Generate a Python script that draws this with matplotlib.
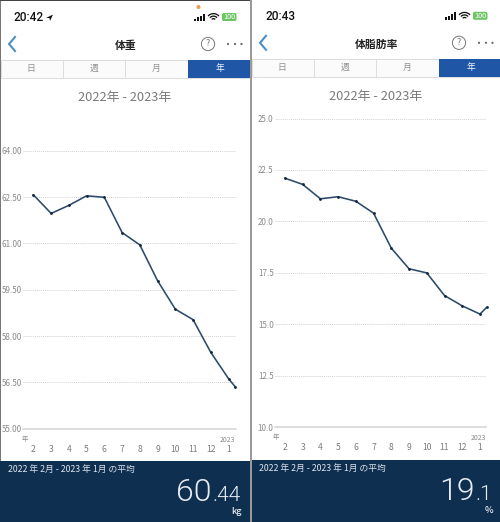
import matplotlib
matplotlib.use("Agg")
import matplotlib.pyplot as plt
from matplotlib.patches import Rectangle, Circle, Wedge, FancyBboxPatch, Polygon

plt.rcParams['font.family'] = ['Noto Sans CJK JP', 'DejaVu Sans']

W, H = 500, 522

# monthly averages, the last point is the running month
month_pos = [0, 1, 2, 3, 4, 5, 6, 7, 8, 9, 10, 11, 11.37]
month_labels = ["2", "3", "4", "5", "6", "7", "8", "9", "10", "11", "12", "1"]

weight = [62.57, 61.97, 62.23, 62.54, 62.49, 61.35, 60.95, 59.79,
          58.87, 58.53, 57.47, 56.62, 56.36]
weight_ticks = [55.0, 56.5, 58.0, 59.5, 61.0, 62.5, 64.0]

body_fat = [22.10, 21.80, 21.10, 21.20, 20.98, 20.40, 18.70, 17.70,
            17.50, 16.40, 15.90, 15.50, 15.82]
body_fat_ticks = [10.0, 12.5, 15.0, 17.5, 20.0, 22.5, 25.0]

tab_labels = ["日", "週", "月", "年"]
GRID = "#d2d2d2"
LINE = "#2c4a6a"
NAVY = "#0f2f50"
TAB_BLUE = "#1f56a6"
LINK = "#4a90c6"
THIN = ["Roboto", "DejaVu Sans"]


def draw_phone(bg, x0, y0, clock, title, avg_big, avg_small, unit, big_right):
    """status bar, header, tabs and the summary panel of one screen"""
    # status bar
    bg.text(x0 + 14, y0 + 17.5, clock, fontsize=8.6, color="#111111", va="center",
            family=THIN, weight="medium")
    for i, h in enumerate([2.5, 4, 5.5, 7.5]):
        bg.add_patch(Rectangle((x0 + 194 + i * 2.9, y0 + 21 - h), 2.1, h,
                               color="#111111", lw=0))
    for r in (8, 5.5, 3):
        bg.add_patch(Wedge((x0 + 213.5, y0 + 21), r, 222, 318, width=1.3,
                           color="#111111", lw=0))
    bg.add_patch(FancyBboxPatch((x0 + 222, y0 + 13), 14.5, 8,
                                boxstyle="round,pad=0,rounding_size=1.8",
                                color="#6cc464", lw=0))
    bg.text(x0 + 229.2, y0 + 16.8, "100", fontsize=5.2, color="white",
            ha="center", va="center")

    # header
    bg.plot([x0 + 15, x0 + 9, x0 + 15], [y0 + 37, y0 + 44, y0 + 51],
            color=LINK, lw=1.5)
    bg.text(x0 + 126, y0 + 46, title, fontsize=7.8, weight="bold", ha="center",
            va="center", color="#222222")
    bg.add_patch(Circle((x0 + 208, y0 + 44), 6.6, fill=False, ec="#777777", lw=0.7))
    bg.text(x0 + 208, y0 + 44, "?", fontsize=6.5, ha="center", va="center",
            color="#777777")
    for dx in (228, 235, 241.5):
        bg.add_patch(Circle((x0 + dx, y0 + 44), 1.1, color="#666666", lw=0))

    # tabs
    bg.add_patch(Rectangle((x0 + 1, y0 + 60), 249, 18, fc="#fbfbfb", ec="#dddddd", lw=0.7))
    for dx in (62.5, 125):
        bg.plot([x0 + dx, x0 + dx], [y0 + 60, y0 + 78], color="#dddddd", lw=0.7)
    bg.add_patch(Rectangle((x0 + 188, y0 + 60), 62, 18, color=TAB_BLUE, lw=0))
    for dx, lab in zip((31, 94, 156, 220), tab_labels):
        bg.text(x0 + dx, y0 + 68.5, lab, fontsize=6.3, ha="center", va="center",
                color="white" if lab == "年" else "#909090")

    bg.text(x0 + 125, y0 + 98, "2022年 - 2023年", fontsize=9.3, ha="center",
            va="center", color="#7a7a7a")

    # year marks above the month labels
    bg.text(x0 + 25, y0 + 438.5, "年", fontsize=4.6, ha="center", va="center",
            color="#8a8a8a")
    bg.text(x0 + 235, y0 + 439.5, "2023", fontsize=5, ha="right", va="center",
            color="#8a8a8a")

    # summary panel
    bg.add_patch(Rectangle((x0, y0 + 461), 250, 62, color=NAVY, lw=0))
    bg.text(x0 + 8, y0 + 469.5, "2022 年 2月 - 2023 年 1月 の平均", fontsize=6.3,
            color="#dfe6ee", va="center")
    bg.text(x0 + big_right, y0 + 501, avg_big, fontsize=23, color="#e6ecf2", ha="right",
            va="baseline", family=THIN, weight=300)
    bg.text(x0 + 241, y0 + 501, avg_small, fontsize=15, color="#e6ecf2", ha="right",
            va="baseline", family=THIN, weight=300)
    bg.text(x0 + 242, y0 + 514, unit, fontsize=6.5, color="#e6ecf2", ha="right",
            va="baseline", weight="medium")


def draw_chart(fig, box, xlim, ylim, values, ticks, fmt):
    """box is left, top, right, bottom in pixels"""
    left, top, right, bottom = box
    ax = fig.add_axes([left / W, 1 - bottom / H, (right - left) / W, (bottom - top) / H])
    ax.patch.set_alpha(0)
    ax.set_xlim(*xlim)
    ax.set_ylim(*ylim)
    for s in ax.spines.values():
        s.set_visible(False)
    ax.set_yticks(ticks)
    ax.set_yticklabels([fmt % t for t in ticks])
    ax.set_xticks(month_pos[:12])
    ax.set_xticklabels(month_labels)
    ax.tick_params(axis="y", length=0, labelsize=5.8, labelcolor="#8a8a8a", pad=1)
    ax.tick_params(axis="x", length=0, labelsize=6.2, labelcolor="#7c7c7c", pad=11.5)
    for t in ticks[1:]:
        ax.axhline(t, color=GRID, lw=0.7, ls=(0, (1, 1)), zorder=1)
    ax.axhline(ticks[0], color="#d4d4d4", lw=1.1, zorder=1, clip_on=False)
    ax.plot(month_pos, values, color=LINE, lw=1.15, zorder=3, clip_on=False)
    ax.plot(month_pos, values, ls="none", marker="o", ms=1.0, color="#14263a", zorder=4,
            clip_on=False)
    return ax


fig = plt.figure(figsize=(W / 100, H / 100), dpi=100, facecolor="white")

bg = fig.add_axes([0, 0, 1, 1])
bg.set_xlim(0, W)
bg.set_ylim(H, 0)
bg.axis("off")

# frame around and between the two screenshots
bg.add_patch(Rectangle((0, 0), 1, H, color="#777777", lw=0))
bg.add_patch(Rectangle((0, 0), 250, 1.3, color="#444444", lw=0))

draw_phone(bg, 0, 0, "20:42", "体重", "60", ".44", "kg", 212)
bg.add_patch(Circle((198.5, 7), 2, color="#e8a04a", lw=0))
bg.add_patch(Polygon([(46, 18), (53, 14.5), (50, 21), (49.5, 18)], color="#111111", lw=0))

draw_phone(bg, 251, -1.2, "20:43", "体脂肪率", "19", ".1", "%", 224)
bg.add_patch(Rectangle((250, 0), 2, H, color="#9a9a9a", lw=0))

draw_chart(fig, (23, 150.7, 236, 428.7), (-0.586, 11.42), (55, 64), weight,
           weight_ticks, "%.2f")
draw_chart(fig, (275, 118.5, 486, 427.3), (-0.56, 11.34), (10, 25), body_fat,
           body_fat_ticks, "%.1f")

fig.savefig("out.png", dpi=100)
